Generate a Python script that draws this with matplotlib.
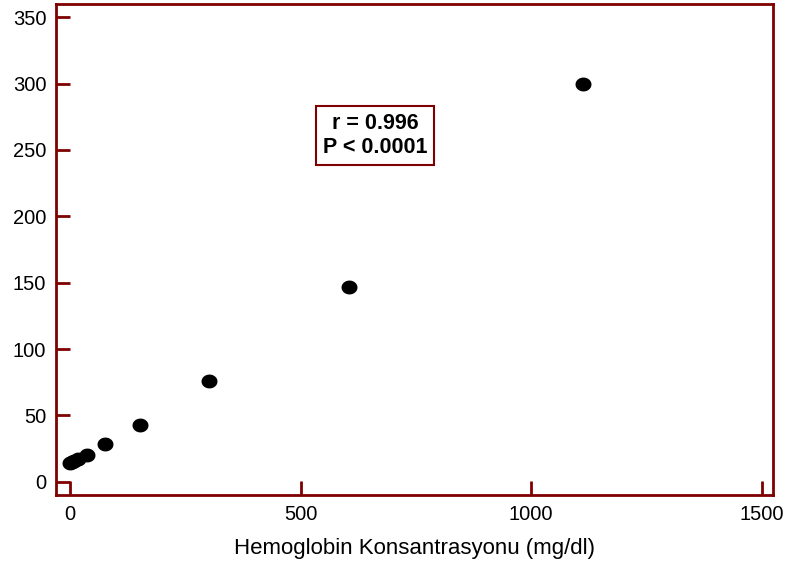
import matplotlib
matplotlib.use("Agg")
import numpy as np
import matplotlib.pyplot as plt
from matplotlib.path import Path

plt.rcParams['font.family'] = ['Liberation Sans', 'DejaVu Sans']

hb_conc = [1, 5, 10, 18, 37, 76, 152, 301, 605, 1112]
signal = [14, 14.5, 15.5, 17, 20.5, 28.5, 43, 76, 147, 299.5]
x_ticks = [0, 500, 1000, 1500]
y_ticks = [0, 50, 100, 150, 200, 250, 300, 350]
xlabel = "Hemoglobin Konsantrasyonu (mg/dl)"
stats_text = "r = 0.996\nP < 0.0001"

dark_red = '#7f0000'

# slightly wide elliptical dot marker
t = np.linspace(0, 2 * np.pi, 60)
ellipse = Path(np.column_stack([np.cos(t), 0.87 * np.sin(t)]), closed=True)

fig = plt.figure(figsize=(7.87, 5.67), dpi=100)
ax = fig.add_axes([0.0712, 0.127, 0.911, 0.866])
ax.plot(hb_conc, signal, linestyle='none', marker=ellipse, color='black',
        markersize=11.5, markeredgewidth=0)
ax.set_xlim(-30, 1524)
ax.set_ylim(-10, 360)
ax.set_xticks(x_ticks)
ax.set_yticks(y_ticks)
for s in ax.spines.values():
    s.set_color(dark_red)
    s.set_linewidth(2)
ax.tick_params(direction='in', length=10, width=2, color=dark_red,
               labelsize=14.5, pad=7)
ax.set_xlabel(xlabel, fontsize=16, labelpad=10)
ax.text(661, 261, stats_text, ha='center', va='center', fontsize=15.5,
        fontweight='bold', linespacing=1.2,
        bbox=dict(boxstyle='square,pad=0.32', facecolor='white',
                  edgecolor=dark_red, linewidth=1.5))
fig.savefig('out.png', dpi=100)
